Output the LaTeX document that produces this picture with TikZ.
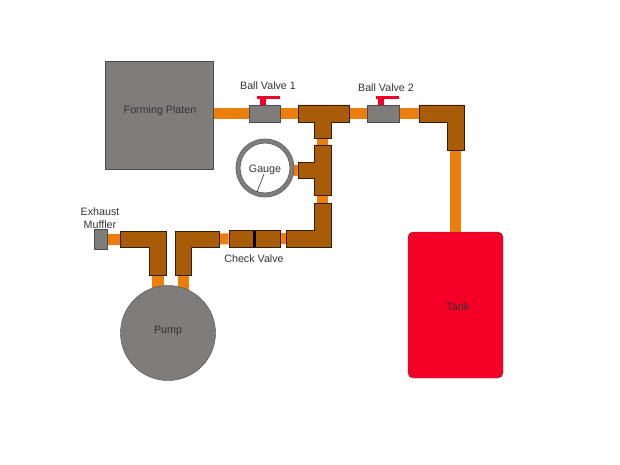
\documentclass[tikz,border=0pt]{standalone}
\usepackage{fontspec}
\setmainfont{Liberation Sans}
\definecolor{mybrown}{HTML}{A85C08}
\definecolor{myorange}{HTML}{EC7E0E}
\definecolor{mygray}{HTML}{7F7C7C}
\definecolor{myred}{HTML}{F40026}
\usetikzlibrary{backgrounds}
\tikzset{
	greybox/.style={
			shape=rectangle,
			draw=black!70,
			fill=mygray,
			inner sep=0pt
		},
	fitting/.style={
			draw=black!70!mybrown,
			fill=mybrown,
			line width=0.7pt
		},
	fittingbox/.style={
			shape=rectangle,
			fitting,
			inner sep=0pt
		},
	pipe/.style={
			draw=myorange,
			line width=11pt
		},
	handle/.style={
			fill=myred,
			draw=none
		},
	labeltext/.style={
			font=\fontsize{10.7}{12.5}\selectfont,
			text=black!80,
			align=center,
			inner sep=0pt
		}
}
\begin{document}
\begin{tikzpicture}[x=1pt, y=-1pt]
	\useasboundingbox (0,0) rectangle (620,465);

	\node[greybox, minimum width=108pt, minimum height=108pt] (platen) at (159,115) {};
	\node[greybox, minimum width=31pt, minimum height=17pt] (valve1) at (264.5,113.5) {};
	\node[greybox, minimum width=32pt, minimum height=17pt] (valve2) at (383,113.5) {};
	\node[greybox, minimum width=13pt, minimum height=20pt] (muffler) at (100.5,239) {};
	\node[greybox, circle, minimum size=95pt] (pump) at (168,333) {};
	\node[shape=rectangle, rounded corners=5pt, draw=black!70, fill=myred, inner sep=0pt,
		minimum width=95pt, minimum height=146pt] (tank) at (455.5,305) {};

	% red handles
	\fill[handle] (260,99) rectangle (266,105);
	\fill[handle] (257,96.5) rectangle (280,99.5);
	\fill[handle] (378,99) rectangle (384,105);
	\fill[handle] (376,96.5) rectangle (399,99.5);

	% top tee
	\draw[fitting] (298,105) -- (349,105) -- (349,122) -- (331,122) -- (331,138)
		-- (314,138) -- (314,122) -- (298,122) -- cycle;
	\coordinate (teeleft) at (298,113.5);
	\coordinate (teeright) at (349,113.5);
	\coordinate (teedown) at (322.5,138);

	% gauge tee
	\draw[fitting] (314,145) -- (331,145) -- (331,195) -- (314,195) -- (314,178)
		-- (298,178) -- (298,162) -- (314,162) -- cycle;
	\coordinate (gaugeup) at (322.5,145);
	\coordinate (gaugedown) at (322.5,195);
	\coordinate (gaugeleft) at (298,170.5);

	% elbows
	\draw[fitting] (314,203) -- (331,203) -- (331,247) -- (286,247) -- (286,230) -- (314,230) -- cycle;
	\coordinate (lowup) at (322.5,203);
	\coordinate (lowleft) at (286,238.5);

	\draw[fitting] (419,105) -- (464,105) -- (464,150) -- (447,150) -- (447,122) -- (419,122) -- cycle;
	\coordinate (topleft) at (419,113.5);
	\coordinate (topdown) at (455.5,150);

	\draw[fitting] (175,231) -- (219,231) -- (219,247) -- (191,247) -- (191,275) -- (175,275) -- cycle;
	\coordinate (pumpright) at (219,239);
	\coordinate (pumpoutlet) at (183,275);

	\draw[fitting] (120,231) -- (166,231) -- (166,275) -- (149,275) -- (149,247) -- (120,247) -- cycle;
	\coordinate (pumpleft) at (120,239);
	\coordinate (pumpinlet) at (157.5,275);

	% check valve
	\node[fittingbox, minimum width=51pt, minimum height=17pt] (check) at (254.5,238.5) {};
	\fill[black] (253,230.5) rectangle (256,246.5);

	% gauge
	\node[circle, draw=black!65, double=mygray, double distance=3.6pt, line width=0.6pt, fill=white,
		minimum size=54pt, inner sep=0pt] (gauge) at (265,168) {};
	\coordinate (needle) at (257,192);
	\draw[black!80, line width=0.6pt] (264,174) -- (needle);

	% pipes
	\begin{pgfonlayer}{background}
		\draw[pipe] (platen.east |- valve1) -- (valve1);
		\draw[pipe] (valve1) -- (teeleft);
		\draw[pipe] (teeright) -- (valve2);
		\draw[pipe] (valve2) -- (topleft);
		\draw[pipe] (topdown) -- (tank.north -| topdown);
		\draw[pipe] (teedown) -- (gaugeup);
		\draw[pipe] (gaugedown) -- (lowup);
		\draw[pipe] (gauge) -- (gaugeleft);
		\draw[pipe] (lowleft) -- (check);
		\draw[pipe] (check) -- (pumpright);
		\draw[pipe] (pumpleft) -- (muffler);
		\draw[pipe, line width=12pt] (pumpinlet) -- (157.5,295);
		\draw[pipe, line width=11pt] (pumpoutlet) -- (183,295);
	\end{pgfonlayer}

	\node[labeltext] (platenlabel) at (160,111) {Forming Platen};
	\node[labeltext] (valve1label) at (268,86) {Ball Valve 1};
	\node[labeltext] (valve2label) at (386,88) {Ball Valve 2};
	\node[labeltext] (checklabel) at (254,259) {Check Valve};
	\node[labeltext] (mufflerlabel) at (100,218) {Exhaust\\Muffler};
	\node[labeltext] (gaugelabel) at (265,170) {Gauge};
	\node[labeltext] (pumplabel) at (168,331) {Pump};
	\node[labeltext] (tanklabel) at (458,307) {Tank};
\end{tikzpicture}
\end{document}
